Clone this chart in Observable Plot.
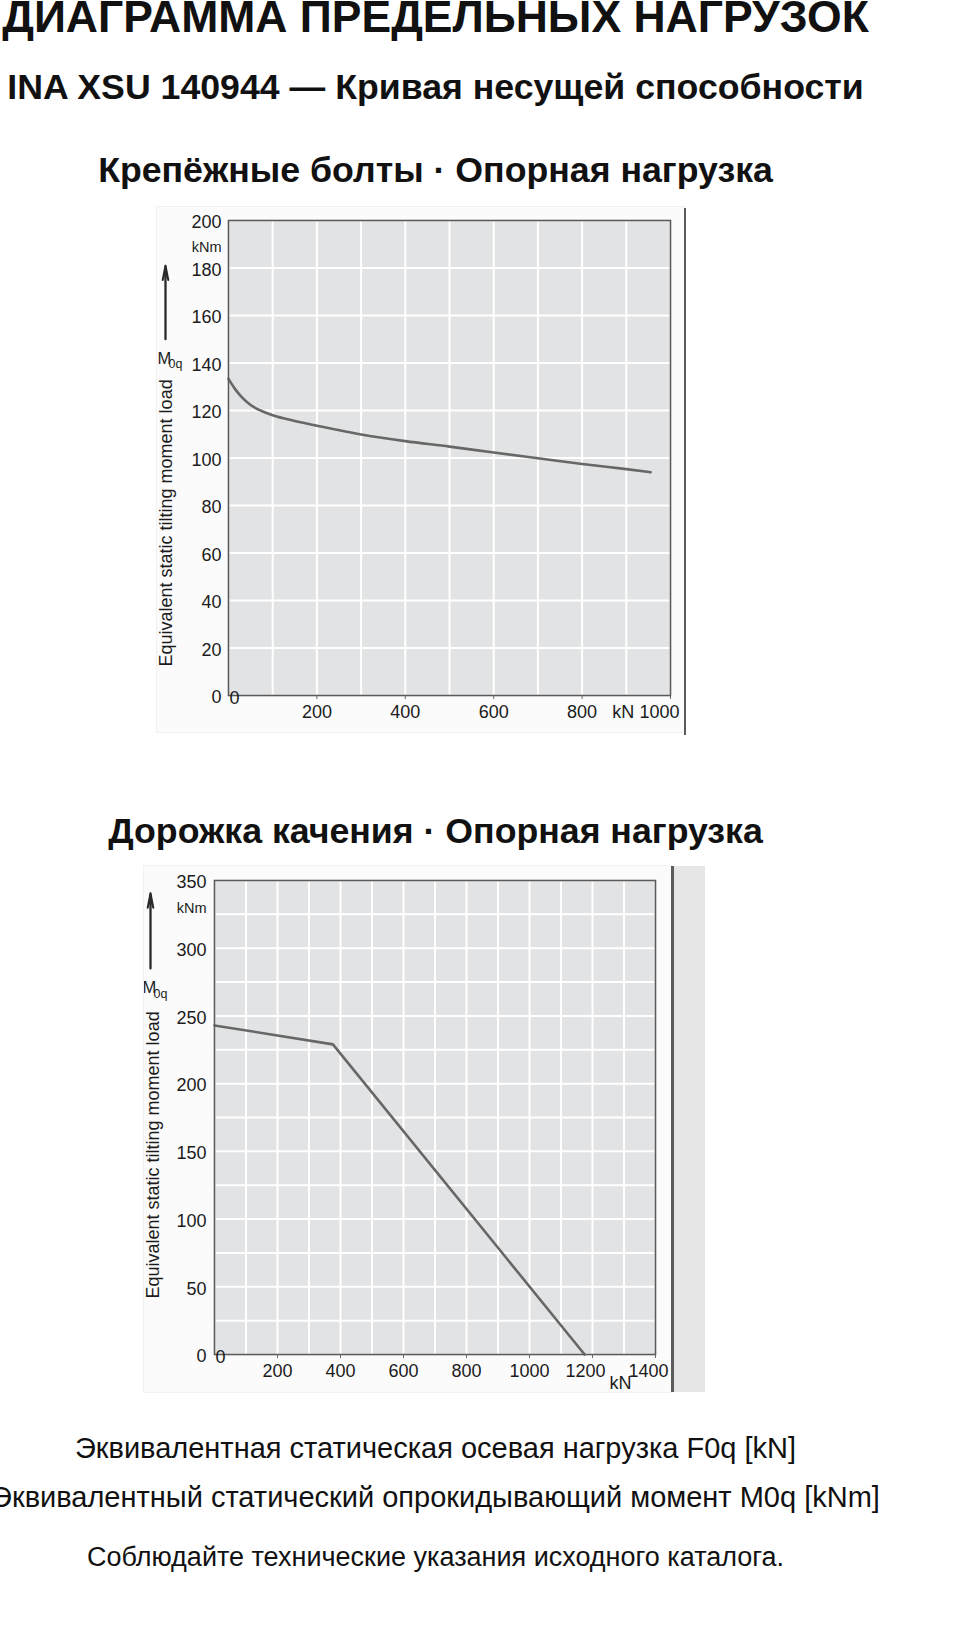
<!DOCTYPE html>
<html>
<head>
<meta charset="utf-8">
<script src="https://cdn.jsdelivr.net/npm/d3@7"></script>
<script src="https://cdn.jsdelivr.net/npm/@observablehq/plot@0.6"></script>
<style>
  html, body { margin: 0; padding: 0; background: #fff; }
  body { font-family: "Liberation Sans", Arial, Helvetica, sans-serif; color: #111; }
  #page { position: relative; width: 960px; height: 1630px; overflow: hidden; }
  .line { position: absolute; left: 0; width: 871px; display: flex; justify-content: center; white-space: nowrap; line-height: 1; }
  .title { font-size: 44.5px; font-weight: bold; line-height: 0.7; }
  .subtitle { font-size: 35.7px; font-weight: bold; }
  .section { font-size: 35.7px; font-weight: bold; }
  .foot { font-size: 29px; }
  .foot2 { font-size: 27px; }
  .chart { position: absolute; }
  .chart svg { display: block; box-shadow: 0 0 0 1px #f1f1f1; }
  .bar { position: absolute; background: #5c5c5c; }
  .panel { position: absolute; background: #e6e6e6; }
</style>
</head>
<body>
<div id="page">
  <div class="line title" style="top:1px">ДИАГРАММА ПРЕДЕЛЬНЫХ НАГРУЗОК</div>
  <div class="line subtitle" style="top:70px">INA XSU 140944 — Кривая несущей способности</div>
  <div class="line section" style="top:153px">Крепёжные болты · Опорная нагрузка</div>
  <div class="chart" id="chart1" style="left:157px; top:207px"></div>
  <div class="bar" style="left:684px; top:208px; width:2px; height:527px"></div>
  <div class="line section" style="top:814px">Дорожка качения · Опорная нагрузка</div>
  <div class="chart" id="chart2" style="left:144px; top:866px"></div>
  <div class="bar" style="left:671px; top:866px; width:2.5px; height:526px"></div>
  <div class="panel" style="left:673.5px; top:866px; width:31px; height:526px"></div>
  <div class="line foot" style="top:1434px">Эквивалентная статическая осевая нагрузка F0q [kN]</div>
  <div class="line foot" style="top:1482.5px">Эквивалентный статический опрокидывающий момент M0q [kNm]</div>
  <div class="line foot2" style="top:1544px">Соблюдайте технические указания исходного каталога.</div>
</div>
<script>
// ---- Chart 1: mounting bolts (Крепёжные болты) ----
const boltsLoad   = [0, 15, 30, 50, 75, 100, 150, 200, 300, 400, 500, 600, 700, 800, 900, 955];   // F0q, kN
const boltsMoment = [133.3, 129, 125.6, 122.3, 119.8, 118, 115.6, 113.6, 109.9, 107.1, 104.8, 102.3, 99.9, 97.5, 95.3, 94]; // M0q, kNm
const boltsXGrid  = [0, 100, 200, 300, 400, 500, 600, 700, 800, 900, 1000];
const boltsYGrid  = [0, 20, 40, 60, 80, 100, 120, 140, 160, 180, 200];
const boltsXTicks = [200, 400, 600, 800];
const boltsXTicksShifted = [1000];
const boltsYTicks = [0, 20, 40, 60, 80, 100, 120, 140, 160, 180, 200];

// ---- Chart 2: raceway (Дорожка качения) ----
const racewayLoad   = [0, 376, 1175];  // F0q, kN
const racewayMoment = [243, 229, 0];   // M0q, kNm
const racewayXGrid  = [0, 100, 200, 300, 400, 500, 600, 700, 800, 900, 1000, 1100, 1200, 1300, 1400];
const racewayYGrid  = [0, 25, 50, 75, 100, 125, 150, 175, 200, 225, 250, 275, 300, 325, 350];
const racewayXTicks = [200, 400, 600, 800, 1000];
const racewayXTicksShifted = [1200, 1400];
const racewayYTicks = [0, 50, 100, 150, 200, 250, 300, 350];

const yAxisTitle = "Equivalent static tilting moment load";
const momentUnit = "kNm";
const loadUnit = "kN";

const FONT = '"Liberation Sans", Arial, Helvetica, sans-serif';
const INK = "#1c1c1c";
const fmt = d => String(d);

function makeChart(o) {
  const data = o.load.map((F, i) => ({F, M: o.moment[i]}));
  return Plot.plot({
    width: 527, height: o.height,
    marginLeft: o.ml, marginRight: o.mr, marginTop: o.mt, marginBottom: o.mb,
    x: {domain: o.xDomain, label: null},
    y: {domain: o.yDomain, label: null},
    style: {fontFamily: FONT, fontSize: "18px", background: "#fbfbfb", color: INK, overflow: "hidden"},
    marks: [
      Plot.frame({fill: "#e2e3e4"}),
      Plot.gridX(o.xGrid, {stroke: "#ffffff", strokeOpacity: 1, strokeWidth: 2}),
      Plot.gridY(o.yGrid, {stroke: "#ffffff", strokeOpacity: 1, strokeWidth: 2}),
      Plot.line(data, {x: "F", y: "M", curve: o.curve, stroke: "#676767", strokeWidth: 2.6}),
      Plot.frame({stroke: "#5a5a5a", strokeWidth: 1.6}),
      Plot.axisY(o.yTicks, {tickSize: 0, tickPadding: o.yPad, fontSize: 18, dy: 2, label: null, tickFormat: fmt, fill: INK}),
      Plot.axisX(o.xTicks, {tickSize: 4, tickPadding: 5.5, fontSize: 18, label: null, tickFormat: fmt, stroke: "#666", fill: INK}),
      Plot.axisX(o.xTicksShifted, {tickSize: 4, tickFormat: () => "", label: null, stroke: "#666"}),
      Plot.text(o.xTicksShifted, {x: d => d, text: fmt, frameAnchor: "bottom", lineAnchor: "middle", dy: 16.5, dx: o.shiftDx, fontSize: 18, fill: INK}),
      Plot.text([0], {x: d => d, y: d => d, text: fmt, textAnchor: "start", lineAnchor: "middle", dx: 1, dy: 3, fontSize: 18, fill: INK}),
      Plot.text([loadUnit], {x: o.unitX, frameAnchor: "bottom", lineAnchor: "middle", dy: o.unitDy, dx: o.unitDx, fontSize: 18, fill: INK}),
      Plot.text([momentUnit], {frameAnchor: "top-left", textAnchor: "end", lineAnchor: "middle", dx: -o.yPad, dy: o.kNmDy, fontSize: 14.5, fill: INK}),
      Plot.arrow([o.arrow], {x1: 0, x2: 0, y1: d => d[0], y2: d => d[1], dx: o.arrowDx, stroke: "#2a2a2a", strokeWidth: 2, headLength: 11, headAngle: 22}),
      Plot.arrow([o.arrow], {x1: 0, x2: 0, y1: d => d[0], y2: d => d[1], dx: o.arrowDx, stroke: "#2a2a2a", strokeWidth: 1.6, headLength: 8, headAngle: 12}),
      Plot.text(["M"], {frameAnchor: "left", y: o.mY, textAnchor: "start", lineAnchor: "middle", dx: o.mDx, fontSize: 16.5, fill: INK}),
      Plot.text(["0q"], {frameAnchor: "left", y: o.subY, textAnchor: "start", lineAnchor: "middle", dx: o.mDx + 11, fontSize: 12.5, fill: INK}),
      Plot.text([yAxisTitle], {frameAnchor: "bottom-left", rotate: -90, textAnchor: "start", lineAnchor: "middle", dx: o.titleDx, dy: o.titleDy, fontSize: 18, fill: INK})
    ]
  });
}

document.getElementById("chart1").append(makeChart({
  load: boltsLoad, moment: boltsMoment, curve: "monotone-x",
  height: 525, ml: 71, mr: 14, mt: 13, mb: 37,
  xDomain: [0, 1000], yDomain: [0, 200],
  xGrid: boltsXGrid, yGrid: boltsYGrid, xTicks: boltsXTicks, xTicksShifted: boltsXTicksShifted, shiftDx: -11,
  yTicks: boltsYTicks, yPad: 7,
  unitX: 900, unitDy: 16.5, unitDx: -3, kNmDy: 27,
  arrow: [150, 181], arrowDx: -63,
  mY: 142, subY: 139.4, mDx: -71,
  titleDx: -62, titleDy: -29
}));

document.getElementById("chart2").append(makeChart({
  load: racewayLoad, moment: racewayMoment, curve: "linear",
  height: 526, ml: 70, mr: 16, mt: 14, mb: 38,
  xDomain: [0, 1400], yDomain: [0, 350],
  xGrid: racewayXGrid, yGrid: racewayYGrid, xTicks: racewayXTicks, xTicksShifted: racewayXTicksShifted, shiftDx: -7,
  yTicks: racewayYTicks, yPad: 8,
  unitX: 1300, unitDy: 29, unitDx: -3.5, kNmDy: 28,
  arrow: [285, 340.5], arrowDx: -64,
  mY: 271, subY: 266, mDx: -72,
  titleDx: -61, titleDy: -56
}));
</script>
</body>
</html>
